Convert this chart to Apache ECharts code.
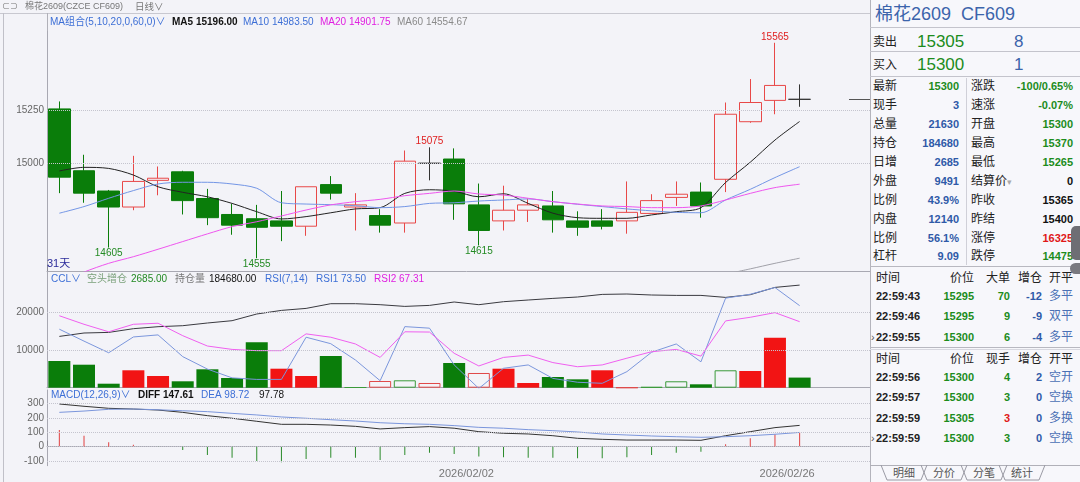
<!DOCTYPE html>
<html><head><meta charset="utf-8">
<script src="https://cdn.jsdelivr.net/npm/echarts@6/dist/echarts.min.js"></script>
<style>
html,body{margin:0;padding:0;width:1080px;height:482px;overflow:hidden;background:#f3f3f8;font-family:"Liberation Sans","Noto Sans CJK SC",sans-serif;}
#chart{position:absolute;left:0;top:0;width:1080px;height:482px;}
.d{position:absolute;}
#panel{position:absolute;left:870px;top:0;width:210px;height:482px;background:#f7f7fb;border-left:1px solid #b4b4bc;box-sizing:border-box;}
#panel span{position:absolute;white-space:nowrap;line-height:1;}
.hl{position:absolute;height:1px;background:#c4c4cc;}
</style></head>
<body>
<div id="chart"></div>
<div class="d" style="left:0;top:13px;width:870px;height:1px;background:#c8c8d0"></div>
<div class="d" style="left:3px;top:13px;width:1px;height:469px;background:#c0c0c8"></div>
<div class="d" style="left:47px;top:13px;width:1px;height:18px;background:#b0b0b8"></div>
<div id="panel"></div>
<script>
// ---------------- data ----------------
const dates = ['2026/01/08','2026/01/09','2026/01/12','2026/01/13','2026/01/14','2026/01/15','2026/01/16','2026/01/19','2026/01/20','2026/01/21','2026/01/22','2026/01/23','2026/01/26','2026/01/27','2026/01/28','2026/01/29','2026/01/30','2026/02/02','2026/02/03','2026/02/04','2026/02/05','2026/02/06','2026/02/09','2026/02/10','2026/02/11','2026/02/12','2026/02/13','2026/02/23','2026/02/24','2026/02/25','2026/02/26'];
const padSlots = ['·1','·2','·3'];
const dateTickLabels = ['2026/02/02','2026/02/26'];
const markedDate = '2026/02/26';

const opens  = [15255,14965,14870,14795,14920,14960,14835,14760,14740,14730,14705,14900,14795,14755,14720,15000,15020,14805,14730,14780,14800,14730,14730,14730,14765,14840,14865,14925,15195,15295,15300];
const closes = [14935,14860,14795,14915,14930,14825,14745,14710,14700,14705,14890,14860,14805,14710,15010,15000,14810,14685,14780,14805,14735,14700,14705,14770,14825,14855,14800,15230,15285,15365,15300];
const lows   = [14860,14815,14605,14780,14850,14760,14710,14665,14555,14635,14660,14830,14685,14675,14675,14920,14735,14615,14685,14725,14675,14660,14690,14670,14765,14800,14745,14865,15190,15230,15265];
const highs  = [15290,15040,14875,15035,14985,14965,14880,14810,14805,14870,14890,14940,14860,14785,15060,15075,15070,14905,14895,14835,14870,14775,14785,14915,14855,14915,14910,15285,15395,15565,15370];

const ma5  = [14964,14981,14976,14945,14890,14864,14843,14812,14773,14739,14750,14768,14786,14792,14859,14876,14869,14843,14857,14812,14766,14745,14742,14742,14758,14773,14792,14910,15005,15109,15196];
const ma10 = [14766,14797,14836,14872,14903,14911,14911,14903,14883,14815,14809,14806,14801,14792,14797,14812,14815,14823,14828,14833,14820,14808,14797,14786,14777,14770,14768,14828,14878,14933,14984];
const ma20 = [14440,14490,14531,14562,14597,14633,14669,14703,14726,14753,14781,14805,14820,14831,14848,14859,14870,14856,14851,14836,14820,14809,14800,14797,14792,14792,14800,14828,14859,14886,14902];
const ma60 = [null,null,null,null,null,null,null,null,null,null,null,null,null,null,null,null,null,null,null,null,null,null,null,null,null,null,null,14480,14505,14531,14555];

const extremeIdx = [29,15,2,8,17];
const extremeVal = [15565,15075,14605,14555,14615];
const extremeDir = ['max','max','min','min','min'];
const lastPrice = 15300;

const priceTicks = [15000,15250];

// CCL panel
const oiChange = [7080,6100,1060,4620,3100,1700,4880,2570,12040,5040,3100,8410,100,1780,1960,1250,6550,3900,5040,1250,2840,2220,4620,0,190,1700,900,4620,4430,13260,2685];
const oiChangeType = ['g','g','g','r','r','g','g','g','g','r','r','g','gh','rh','gh','rh','g','rh','r','r','g','g','r','rh','gh','gh','g','gh','r','r','g'];
const openInterest = [92340,98460,99540,106200,109800,111600,116460,120600,132660,139140,142740,151200,151200,149400,146340,148140,154260,149400,154800,157860,160740,163260,167940,168660,166860,166140,166140,162540,167400,180540,184680];
const rsi1 = [64.4,59.8,55.3,61.4,62.2,53.8,49.0,45.6,45.0,45.0,61.3,58.8,52.5,44.5,65.4,64.8,50.6,41.5,49.3,50.6,45.4,43.9,43.5,48.0,55.5,58.7,51.8,76.4,77.9,80.5,73.5];
const rsi2 = [69.6,66.3,63.4,66.3,66.7,61.9,57.9,56.6,56.1,56.1,62.6,61.3,58.7,53.5,63.4,63.3,55.1,50.2,53.5,54.4,51.5,49.9,50.6,53.2,55.7,56.6,54.0,67.6,69.0,70.8,67.31];
const cclTicks = [10000,20000];

// MACD panel
const diff = [296,280,266,261,254,238,215,197,176,155,155,150,141,123,132,139,128,104,93,88,76,58,51,46,46,46,44,76,104,132,147.61];
const dea  = [238,247,259,261,256,249,243,231,220,206,197,187,178,166,159,155,146,134,128,118,111,102,88,81,74,69,65,69,76,86,98.72];
const macdHist = [116,76,30,14,-3,-23,-57,-76,-99,-108,-85,-76,-76,-92,-57,-42,-51,-69,-73,-76,-76,-80,-80,-73,-57,-42,-35,17,58,86,97.78];
const macdTicks = [300,200,100,0,-100];

// ---------------- chart ----------------
const FONT = '"Liberation Sans","Noto Sans CJK SC",sans-serif';
const BG = '#f3f3f8';
const RED = '#e84848', GREEN = '#0a7d0a', TXTGREEN = '#238a23';
const BLUE = '#3d6fd6', MAG = '#e020e0';
const cats = dates.concat(padSlots);
const G = {left:47, width:839};

function xAx(gi, extra){
  return Object.assign({type:'category', gridIndex:gi, data:cats, boundaryGap:true,
    axisLine:{show:true, lineStyle:{color:'#a8a8b2'}}, axisTick:{show:false},
    axisLabel:{show:false}, splitLine:{show:false}}, extra||{});
}
const markTick = {show:true, inside:true, length:6, interval:(i,v)=>v===markedDate, lineStyle:{color:'#8a8a94'}};
function yAx(gi, min, max, ticks, extra){
  return Object.assign({type:'value', gridIndex:gi, min, max, scale:false,
    axisLine:{show:true, lineStyle:{color:'#a8a8b2'}}, axisTick:{show:false}, splitLine:{show:false},
    axisLabel:{show:!!ticks, customValues:ticks||undefined, formatter:v=>String(v), color:'#666', fontSize:10, fontFamily:FONT, margin:3}}, extra||{});
}
function gridLines(xi, yi, ticks){
  return {type:'line', xAxisIndex:xi, yAxisIndex:yi, data:[], z:0, silent:true,
    markLine:{silent:true, symbol:['none','none'], label:{show:false}, animation:false,
      lineStyle:{type:'dotted', color:'#c4c4ce', width:1},
      data: ticks.map(t=>({yAxis:t}))}};
}
const barStyles = {
  g:{color:GREEN},
  r:{color:'#f21414'},
  gh:{color:'rgba(0,0,0,0)', borderColor:'#3a9a3a', borderWidth:1},
  rh:{color:'rgba(0,0,0,0)', borderColor:'#e04848', borderWidth:1}
};
function t(x, y, text, fill, size, weight){
  return {type:'text', x, y, silent:true, z:100,
    style:{text, fill, font:(weight||'normal')+' '+(size||10)+'px '+FONT, verticalAlign:'middle'}};
}

const option = {
  animation:false,
  backgroundColor:BG,
  grid:[
    {left:G.left, width:G.width, top:30, height:241},
    {left:G.left, width:G.width, top:272, height:115.7},
    {left:G.left, width:G.width, top:390, height:75.7}
  ],
  xAxis:[
    xAx(0, {axisTick:markTick}),
    xAx(1),
    xAx(2, {axisTick:markTick, axisLabel:{show:true, interval:(i,v)=>dateTickLabels.includes(v),
      formatter:v=>'{a|'+v+'}', color:'#777', fontSize:11, fontFamily:FONT, margin:3,
      rich:{a:{padding:[0,25,0,0], color:'#777', fontSize:11, fontFamily:FONT}}}})
  ],
  yAxis:[
    yAx(0, 14495, 15625, priceTicks),
    yAx(1, 0, 30690, cclTicks),
    yAx(1, 41.8, 86.5, null, {show:false}),
    yAx(1, 0, 208260, null, {show:false}),
    yAx(2, -132, 393, macdTicks)
  ],
  graphic:[
    t(2,7,'⊂⊃','#777',8),
    t(25,7,'棉花2609(CZCE CF609)','#777',9),
    t(135,7,'日线∨','#777',9.5),
    t(50,22,'MA组合(5,10,20,0,60,0)∨',BLUE,10),
    t(172,22,'MA5 15196.00','#111',10,'bold'),
    t(243,22,'MA10 14983.50',BLUE,10),
    t(320,22,'MA20 14901.75',MAG,10),
    t(397,22,'MA60 14554.67','#8a8a8a',10),
    t(47,264,dates.length+'天','#2b2b9a',11),
    t(51,279,'CCL∨',BLUE,10),
    t(87,279,'空头增仓','#7aa07a',10),
    t(131,279,'2685.00',TXTGREEN,10),
    t(175,279,'持仓量','#777',10),
    t(209,279,'184680.00','#111',10),
    t(265,279,'RSI(7,14)',BLUE,10),
    t(316,279,'RSI1 73.50',BLUE,10),
    t(374,279,'RSI2 67.31',MAG,10),
    t(51,395,'MACD(12,26,9)∨',BLUE,10),
    t(138,395,'DIFF 147.61','#111',10,'bold'),
    t(201,395,'DEA 98.72',BLUE,10),
    t(259,395,'97.78','#111',10)
  ],
  series:[
    gridLines(0,0,priceTicks),
    {type:'candlestick', name:'K', xAxisIndex:0, yAxisIndex:0, barWidth:22, z:3,
      data: dates.map((d,i)=>[opens[i], closes[i], lows[i], highs[i]]),
      itemStyle:{color:'rgba(0,0,0,0)', color0:GREEN, borderColor:RED, borderColor0:GREEN, borderColorDoji:'#333', borderWidth:1},
      markPoint:{symbol:'circle', symbolSize:0, animation:false, silent:true,
        data: extremeIdx.map((ix,k)=>({coord:[dates[ix], extremeVal[k]], value:extremeVal[k],
          label:{show:true, position: extremeDir[k]==='max'?'top':'bottom', distance:1,
            color: extremeDir[k]==='max'?'#e02020':TXTGREEN, fontSize:10, fontFamily:FONT}}))},
      markLine:{silent:true, symbol:['none','none'], label:{show:false}, animation:false,
        data:[[{coord:[padSlots[1], lastPrice]},{coord:[padSlots[2], lastPrice]}]],
        lineStyle:{type:'solid', color:'#555', width:1}}
    },
    {type:'line', name:'MA5', xAxisIndex:0, yAxisIndex:0, data:ma5, smooth:0.3, symbol:'none', z:4, lineStyle:{color:'#222', width:1}},
    {type:'line', name:'MA10', xAxisIndex:0, yAxisIndex:0, data:ma10, smooth:0.3, symbol:'none', z:4, lineStyle:{color:'#7396e6', width:1}},
    {type:'line', name:'MA20', xAxisIndex:0, yAxisIndex:0, data:ma20, smooth:0.3, symbol:'none', z:4, lineStyle:{color:'#ee55ee', width:1}},
    {type:'line', name:'MA60', xAxisIndex:0, yAxisIndex:0, data:ma60, smooth:0.3, symbol:'none', z:4, lineStyle:{color:'#a0a0a8', width:1}},

    gridLines(1,1,cclTicks),
    {type:'bar', name:'增仓', xAxisIndex:1, yAxisIndex:1, barWidth:22, z:2,
      data: oiChange.map((v,i)=>({value:v, itemStyle:barStyles[oiChangeType[i]]}))},
    {type:'line', name:'持仓量', xAxisIndex:1, yAxisIndex:3, data:openInterest, symbol:'none', z:4, lineStyle:{color:'#3a3a40', width:1}},
    {type:'line', name:'RSI1', xAxisIndex:1, yAxisIndex:2, data:rsi1, symbol:'none', z:4, lineStyle:{color:'#7b96dc', width:1}},
    {type:'line', name:'RSI2', xAxisIndex:1, yAxisIndex:2, data:rsi2, symbol:'none', z:4, lineStyle:{color:'#f060f0', width:1}},

    gridLines(2,4,macdTicks),
    {type:'bar', name:'MACD', xAxisIndex:2, yAxisIndex:4, barWidth:1, z:2,
      data: macdHist.map(v=>({value:v, itemStyle:{color: v>=0?'#e04040':'#2a8a2a'}}))},
    {type:'line', name:'DIFF', xAxisIndex:2, yAxisIndex:4, data:diff, symbol:'none', z:4, lineStyle:{color:'#333', width:1}},
    {type:'line', name:'DEA', xAxisIndex:2, yAxisIndex:4, data:dea, symbol:'none', z:4, lineStyle:{color:'#7b96dc', width:1}}
  ]
};
const chart = echarts.init(document.getElementById('chart'), null, {renderer:'canvas'});
chart.setOption(option);

// ---------------- right quote panel ----------------
const quoteTitle = '棉花2609\u00a0\u00a0CF609';
const askPrice = '15305', askVol = '8', bidPrice = '15300', bidVol = '1';
const leftLabels = ['最新','现手','总量','持仓','日增','外盘','比例','内盘','比例','杠杆'];
const leftValues = ['15300','3','21630','184680','2685','9491','43.9%','12140','56.1%','9.09'];
const leftColors = ['g','b','b','b','b','b','b','b','b','b'];
const rightLabels = ['涨跌','速涨','开盘','最高','最低','结算价','昨收','昨结','涨停','跌停'];
const rightValues = ['-100/0.65%','-0.07%','15300','15370','15265','0','15365','15400','16325','14475'];
const rightColors = ['g','g','g','g','g','k','k','k','r','g'];
const bigHeader = ['时间','价位','大单','增仓','开平'];
const bigTrades = [['22:59:43','15295','70','-12','多平'],['22:59:46','15295','9','-9','双平'],['22:59:55','15300','6','-4','多平']];
const tickHeader = ['时间','价位','现手','增仓','开平'];
const tickTrades = [['22:59:56','15300','4','2','空开'],['22:59:57','15300','3','0','空换'],['22:59:59','15305','3','0','多换'],['22:59:59','15300','3','0','空换']];
const tickVolColors = ['g','g','r','g'];
const tabs = ['明细','分价','分笔','统计'];

const C = {g:'#1c8c1c', b:'#2f5aa8', k:'#111', r:'#e01818'};
const P = document.getElementById('panel');
let h = '';
const X0 = 870;
function sp(x, yc, text, css, right){
  const pos = right ? 'right:'+(1080 - x)+'px;' : 'left:'+(x - X0 - 1)+'px;';
  h += '<span style="'+pos+'top:'+yc+'px;transform:translateY(-50%);'+css+'">'+text+'</span>';
}
function hl(y, x1, x2, c){ h += '<div class="hl" style="top:'+y+'px;left:'+(x1-X0-1)+'px;width:'+(x2-x1)+'px;background:'+(c||'#c4c4cc')+'"></div>'; }
sp(875,14,quoteTitle,'font-size:18px;color:#3c64ab;');
hl(27,870,1080);
sp(873,42,'卖出','font-size:12px;color:#222;');
sp(917,41,askPrice,'font-size:17px;color:#1c8c1c;');
sp(1014,41,askVol,'font-size:17px;color:#3c64ab;');
hl(51,870,1080);
sp(873,65,'买入','font-size:12px;color:#222;');
sp(917,64,bidPrice,'font-size:17px;color:#1c8c1c;');
sp(1014,64,bidVol,'font-size:17px;color:#3c64ab;');
hl(76,870,1080);
const rowY = [86,105,124,143,162,181,200,219,238,256];
rowY.forEach((y,i)=>{
  sp(873,y,leftLabels[i],'font-size:12px;color:#222;');
  sp(959,y,leftValues[i],'font-size:11px;font-weight:bold;color:'+C[leftColors[i]]+';',true);
  sp(971,y,rightLabels[i]+(rightLabels[i]==='结算价'?'<span style="position:static;color:#aaa;font-size:9px;transform:none">▾</span>':''),'font-size:12px;color:#222;');
  sp(1073,y,rightValues[i],'font-size:11px;font-weight:bold;color:'+C[rightColors[i]]+';',true);
});
h += '<div style="position:absolute;left:'+(966-X0-1)+'px;top:78px;width:1px;height:187px;background:#d0d0d8"></div>';
hl(266,870,1080,'#b8b8c0');
function tradeBlock(yHead, header, rows, volColors, markLast){
  sp(876,yHead,header[0],'font-size:12px;color:#222;');
  sp(974,yHead,header[1],'font-size:12px;color:#222;',true);
  sp(1010,yHead,header[2],'font-size:12px;color:#222;',true);
  sp(1042,yHead,header[3],'font-size:12px;color:#222;',true);
  sp(1049,yHead,header[4],'font-size:12px;color:#222;');
  rows.forEach((r,i)=>{
    const y = yHead + 17.5 + i*20.5;
    if (markLast && i===rows.length-1) sp(871,y,'›','font-size:11px;color:#555;');
    sp(876,y,r[0],'font-size:11px;font-weight:bold;color:#222;');
    sp(974,y,r[1],'font-size:11px;font-weight:bold;color:'+C.g+';',true);
    sp(1010,y,r[2],'font-size:11px;font-weight:bold;color:'+C[volColors?volColors[i]:'g']+';',true);
    sp(1042,y,r[3],'font-size:11px;font-weight:bold;color:'+C.b+';',true);
    sp(1049,y,r[4],'font-size:12px;color:#4a70b5;');
  });
}
tradeBlock(278.3, bigHeader, bigTrades, null, true);
hl(347,870,1080,'#b8b8c0');
hl(349,870,1080,'#d8d8e0');
tradeBlock(359.3, tickHeader, tickTrades, tickVolColors, true);
hl(465,870,1080,'#b0b0b8');
let svg = '<svg style="position:absolute;left:0;top:465px" width="210" height="17">';
const tabX = [10,50,90,128];
tabX.forEach(x=>{ svg += '<path d="M'+x+' 0 L'+(x+6)+' 15 L'+(x+40)+' 15 L'+(x+46)+' 0" fill="none" stroke="#9a9aa4" stroke-width="1"/>'; });
svg += '</svg>';
h += svg;
tabs.forEach((tb,i)=>{ sp(X0+1+tabX[i]+12,473,tb,'font-size:11px;color:#555;'); });
h += '<div style="position:absolute;left:200px;top:226px;width:10px;height:34px;background:#6e6e74;border-radius:5px 0 0 5px"></div>';
h += '<div style="position:absolute;left:199px;top:263px;width:11px;height:11px;background:#7a7a80;border-radius:6px 0 0 6px"></div>';
P.innerHTML = h;
</script>
</body></html>
